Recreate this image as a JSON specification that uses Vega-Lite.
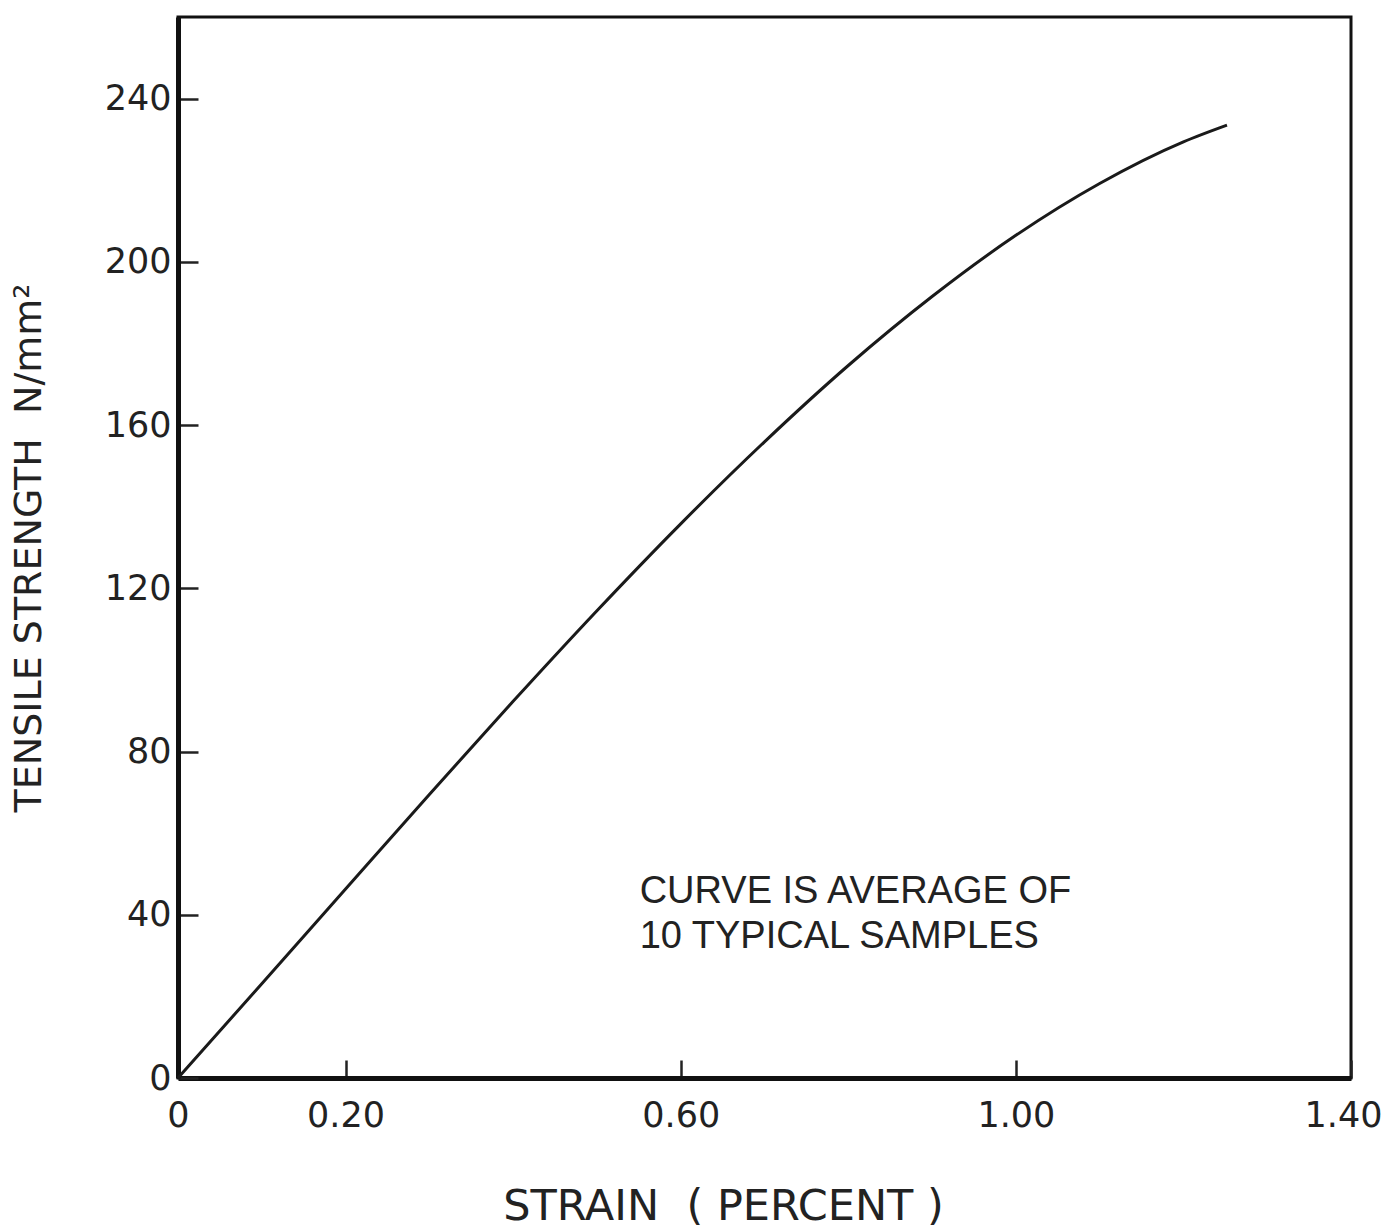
{
  "$schema": "https://vega.github.io/schema/vega-lite/v6.json",
  "autosize": {"type": "none"},
  "padding": {"left": 178, "top": 17, "right": 34, "bottom": 152},
  "width": 1173,
  "height": 1061,
  "background": "white",
  "config": {
    "font": "DejaVu Sans",
    "view": {"stroke": "#111", "strokeWidth": 3},
    "axis": {
      "grid": false,
      "domainColor": "#111",
      "domainWidth": 5,
      "tickColor": "#222",
      "tickWidth": 2.5,
      "labelFont": "DejaVu Sans",
      "labelColor": "#222",
      "labelFontSize": 35,
      "labelFontWeight": "normal",
      "titleFont": "DejaVu Sans",
      "titleColor": "#222",
      "titleFontWeight": "normal"
    }
  },
  "datasets": {
    "curve": [
      {"strain": 0.0, "strength": 0.0},
      {"strain": 0.1, "strength": 23.1},
      {"strain": 0.2, "strength": 46.3},
      {"strain": 0.3, "strength": 69.5},
      {"strain": 0.4, "strength": 92.3},
      {"strain": 0.5, "strength": 114.5},
      {"strain": 0.6, "strength": 135.8},
      {"strain": 0.7, "strength": 155.9},
      {"strain": 0.8, "strength": 174.6},
      {"strain": 0.9, "strength": 191.5},
      {"strain": 1.0, "strength": 206.5},
      {"strain": 1.1, "strength": 219.2},
      {"strain": 1.2, "strength": 229.4},
      {"strain": 1.252, "strength": 233.5}
    ],
    "note": [
      {"strain": 0.551, "strength": 42.9, "text": "CURVE IS AVERAGE OF"},
      {"strain": 0.551, "strength": 31.9, "text": "10 TYPICAL SAMPLES"}
    ]
  },
  "layer": [
    {
      "data": {"name": "curve"},
      "mark": {"type": "line", "color": "#1a1a1a", "strokeWidth": 3, "interpolate": "monotone"},
      "encoding": {
        "x": {
          "field": "strain",
          "type": "quantitative",
          "scale": {"domain": [0, 1.4], "nice": false, "zero": false},
          "axis": {
            "title": "STRAIN\u00a0\u00a0( PERCENT )",
            "titleFontSize": 43,
            "titlePadding": 52,
            "titleX": 545,
            "titleAlign": "center",
            "values": [0, 0.2, 0.6, 1.0, 1.4],
            "labelExpr": "datum.value == 0 ? '0' : format(datum.value, '.2f')",
            "labelOffset": {"condition": {"test": "datum.value == 1.4", "value": -8}, "value": 0},
            "tickSize": -18,
            "labelPadding": 38,
            "labelFlush": false
          }
        },
        "y": {
          "field": "strength",
          "type": "quantitative",
          "scale": {"domain": [0, 260], "nice": false},
          "axis": {
            "title": "TENSILE STRENGTH\u00a0\u00a0N/mm²",
            "titleFontSize": 38,
            "titlePadding": 56,
            "values": [0, 40, 80, 120, 160, 200, 240],
            "tickSize": -20,
            "labelPadding": 27,
            "labelFlush": false
          }
        }
      }
    },
    {
      "data": {"name": "note"},
      "mark": {"type": "text", "align": "left", "baseline": "alphabetic", "font": "Liberation Sans", "fontSize": 38, "color": "#222"},
      "encoding": {
        "x": {"field": "strain", "type": "quantitative"},
        "y": {"field": "strength", "type": "quantitative"},
        "text": {"field": "text"}
      }
    }
  ]
}
